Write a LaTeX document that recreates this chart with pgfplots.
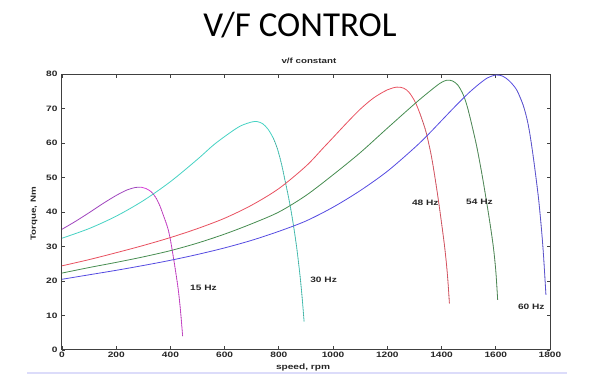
\documentclass[border=0pt]{standalone}
\usepackage{pgfplots}
\pgfplotsset{compat=1.18}
\usepackage{fontspec}
\setmainfont{Liberation Sans}
\newfontfamily\titlefont{Carlito}
\newfontfamily\mfont[FakeStretch=1.3]{Liberation Sans}
\definecolor{cpurple}{RGB}{160,70,190}
\definecolor{cmag}{RGB}{215,60,215}
\definecolor{ccyan}{RGB}{70,210,195}
\definecolor{cred}{RGB}{232,80,95}
\definecolor{cgreen}{RGB}{70,140,80}
\definecolor{cblue}{RGB}{85,75,225}
\definecolor{clav}{RGB}{220,220,250}
\pgfplotstableread{
x y
0 35.0
50 37.3
100 39.8
150 42.4
200 44.8
240 46.4
270 47.1
290 47.2
}\tA
\pgfplotstableread{
x y
290 47.2
310 46.8
330 45.8
345 44.3
360 42.0
375 38.8
390 35.4
400 31.9
411 26.8
420 22.3
429 17.4
437 11.5
445 4.0
}\tB
\pgfplotstableread{
x y
0 32.4
100 35.2
200 38.8
300 43.3
400 48.8
500 55.3
560 59.5
620 63.0
660 65.0
700 66.1
720 66.2
740 65.6
760 64.0
780 61.3
795 58.2
810 53.8
823 49.0
835 44.5
845 40.3
855 35.5
866 29.5
878 21.5
886 15.0
893 8.2
}\tC
\pgfplotstableread{
x y
0 24.4
100 26.2
200 28.2
300 30.3
400 32.6
500 35.2
600 38.2
700 42.0
800 46.8
900 53.3
964 58.6
1000 61.6
1050 65.8
1100 69.8
1150 73.1
1200 75.4
1235 76.2
1260 75.9
1280 74.7
1302 72.0
1320 68.6
1335 65.2
1345 62.5
1360 57.2
1370 52.8
1382 46.8
1392 41.4
1401 36.2
1410 30.8
1417 25.8
1423 20.5
1429 13.5
}\tD
\pgfplotstableread{
x y
0 22.3
100 23.9
200 25.4
300 27.0
400 28.8
500 31.0
600 33.6
700 36.6
800 40.0
900 44.8
1000 50.8
1100 57.2
1200 64.3
1300 71.3
1350 74.6
1394 77.3
1419 78.2
1440 78.0
1460 76.8
1480 74.0
1495 70.5
1510 65.8
1530 58.9
1550 50.5
1567 42.5
1580 36.0
1591 29.9
1600 23.0
1607 14.5
}\tE
\pgfplotstableread{
x y
0 20.5
100 21.8
200 23.1
300 24.5
400 26.0
500 27.7
600 29.6
700 31.8
800 34.4
900 37.4
1000 41.4
1100 46.2
1200 51.8
1300 58.6
1350 62.4
1400 66.5
1450 70.6
1500 74.5
1540 77.2
1570 78.9
1600 79.7
1625 79.4
1650 78.0
1677 75.4
1700 71.2
1715 67.0
1726 62.5
1740 55.0
1757 44.4
1768 35.5
1776 27.5
1785 16.0
}\tF
\begin{document}
\begin{tikzpicture}
\path[use as bounding box] (0,0) rectangle (600pt,375pt);
\node[anchor=base] at (300pt,338pt) {\titlefont\fontsize{35}{40}\selectfont V/F CONTROL};
\draw[clav, line width=1.5pt] (27pt,2pt) -- (567pt,2pt);
\begin{axis}[
  at={(62pt,25pt)}, anchor=south west,
  scale only axis, width=488pt, height=276pt,
  xmin=0, xmax=1800, ymin=0, ymax=80,
  xtick={0,200,...,1800}, ytick={0,10,...,80},
  tick align=inside, major tick length=3.5pt,
  axis line style={line width=1pt, black!75},
  every tick/.style={black!75, line width=0.9pt},
  /pgf/number format/assume math mode=true,
  /pgf/number format/1000 sep={},
  tick label style={font=\mfont\bfseries\fontsize{7.8}{9}\selectfont, black!85},
  xticklabel style={yshift=1pt},
  yticklabel style={xshift=-1pt},
  title={v/f constant},
  title style={font=\mfont\bfseries\fontsize{7.5}{9}\selectfont, black!85, at={(axis description cs:0.506,1.0)}, anchor=south, yshift=1pt},
  xlabel={speed, rpm},
  xlabel style={font=\mfont\bfseries\fontsize{7.8}{9}\selectfont, black!85, at={(axis description cs:0.494,-0.0616)}, anchor=center},
  ylabel={Torque, Nm},
  ylabel style={font=\mfont\bfseries\fontsize{7.5}{9}\selectfont, black!85, at={(axis description cs:-0.0574,0.493)}, anchor=center, rotate=0},
  clip=false,
  every axis plot/.append style={line width=0.8pt, smooth},
]
% 15 Hz
\addplot[cpurple] table {\tA};
\addplot[cmag] table {\tB};
% 30 Hz
\addplot[ccyan] table {\tC};
% 48 Hz
\addplot[cred] table {\tD};
% 54 Hz
\addplot[cgreen] table {\tE};
% 60 Hz
\addplot[cblue] table {\tF};
% dark dash overlay on the steep parts
\addplot[black!55, line width=0.35pt, dash pattern=on 1pt off 1.6pt] table[restrict x to domain=330:460] {\tB};
\addplot[black!55, line width=0.35pt, dash pattern=on 1pt off 1.6pt] table[restrict x to domain=780:900] {\tC};
\addplot[black!55, line width=0.35pt, dash pattern=on 1pt off 1.6pt] table[restrict x to domain=1320:1440] {\tD};
\addplot[black!55, line width=0.35pt, dash pattern=on 1pt off 1.6pt] table[restrict x to domain=1495:1620] {\tE};
\addplot[black!55, line width=0.35pt, dash pattern=on 1pt off 1.6pt] table[restrict x to domain=1677:1800] {\tF};
\node[anchor=west, font=\mfont\bfseries\fontsize{7.8}{9}\selectfont, black!85] at (axis cs:460,18) {15 Hz};
\node[anchor=west, font=\mfont\bfseries\fontsize{7.8}{9}\selectfont, black!85] at (axis cs:903,20.3) {30 Hz};
\node[anchor=west, font=\mfont\bfseries\fontsize{7.8}{9}\selectfont, black!85] at (axis cs:1278,42.8) {48 Hz};
\node[anchor=west, font=\mfont\bfseries\fontsize{7.8}{9}\selectfont, black!85] at (axis cs:1478,42.8) {54 Hz};
\node[anchor=west, font=\mfont\bfseries\fontsize{7.8}{9}\selectfont, black!85] at (axis cs:1669,12.6) {60 Hz};
\end{axis}
\end{tikzpicture}
\end{document}
